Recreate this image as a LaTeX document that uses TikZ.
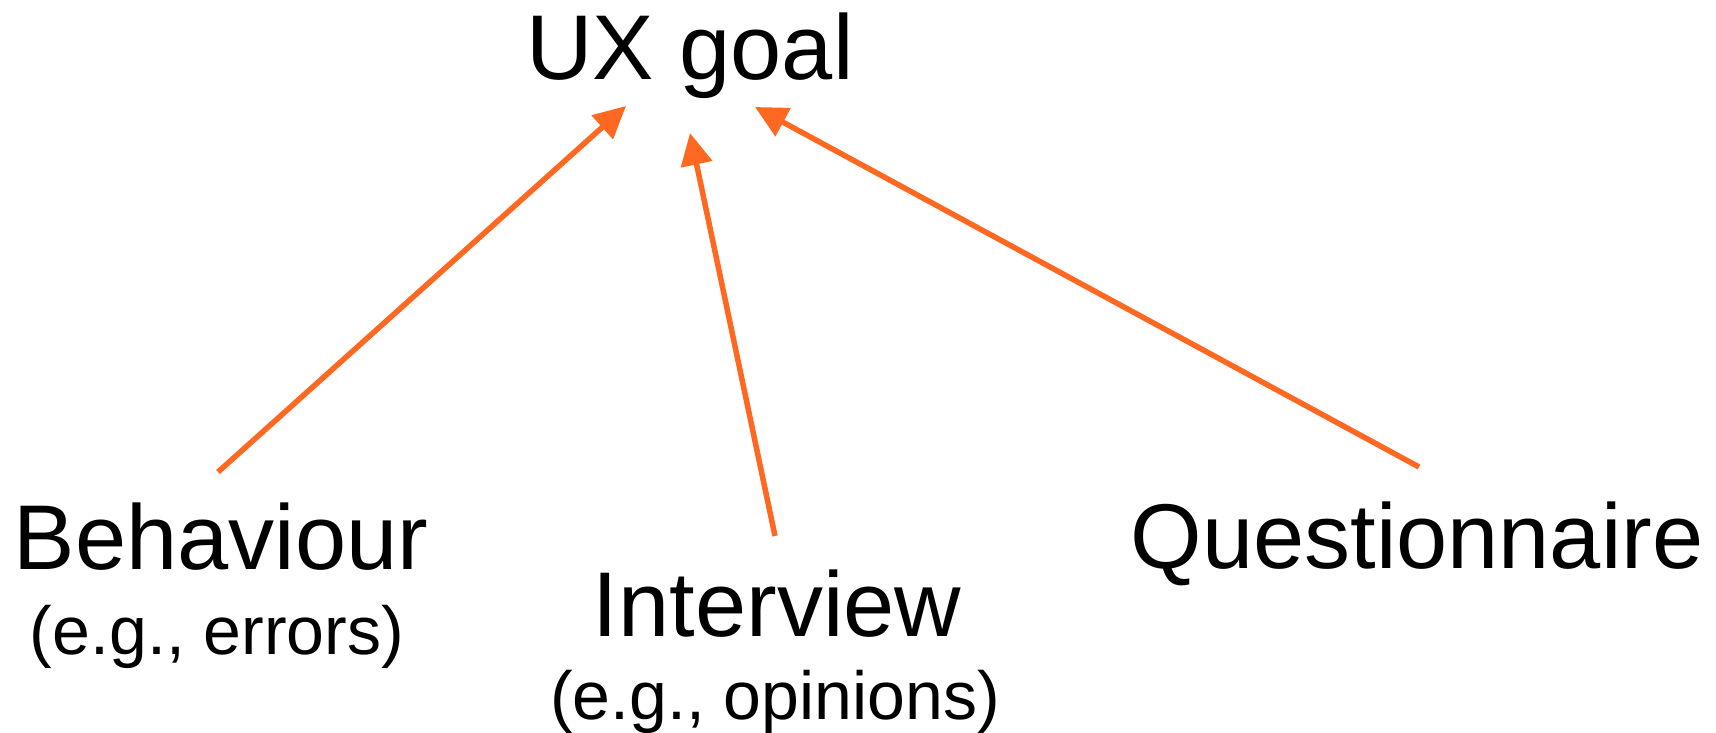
\documentclass[tikz,border=0pt]{standalone}
\usepackage{fontspec}
\setmainfont{Liberation Sans}
\usetikzlibrary{arrows.meta}
\definecolor{arrowc}{RGB}{254,104,32}
\begin{document}
\begin{tikzpicture}[x=1pt,y=1pt,
  title/.style={anchor=base,inner sep=0pt,font=\fontsize{92}{110}\selectfont},
  note/.style={anchor=base,inner sep=0pt,font=\fontsize{68}{80}\selectfont},
  link/.style={draw=arrowc,line width=5.5pt,-{Triangle[length=32pt,width=31pt]}}]
  \useasboundingbox (0,0) rectangle (1716,733);

  % goal and the three measurement sources
  \node[title] (goal) at (690,653) {UX goal};
  \node[title] (beh) at (221,163) {Behaviour};
  \node[note]  (behsub) at (217,78) {(e.g., errors)};
  \node[title] (int) at (777,96) {Interview};
  \node[note]  (intsub) at (775,13) {(e.g., opinions)};
  \node[title] (que) at (1417,164) {Questionnaire};

  % arrows from each source to the goal
  \draw[link] ([shift={(-3,98)}]beh.base) -- ([shift={(-64,-26)}]goal.base);
  \draw[link] ([shift={(-2,101)}]int.base) -- ([shift={(0,-53)}]goal.base);
  \draw[link] ([shift={(2,102)}]que.base) -- ([shift={(65,-27)}]goal.base);
\end{tikzpicture}
\end{document}
